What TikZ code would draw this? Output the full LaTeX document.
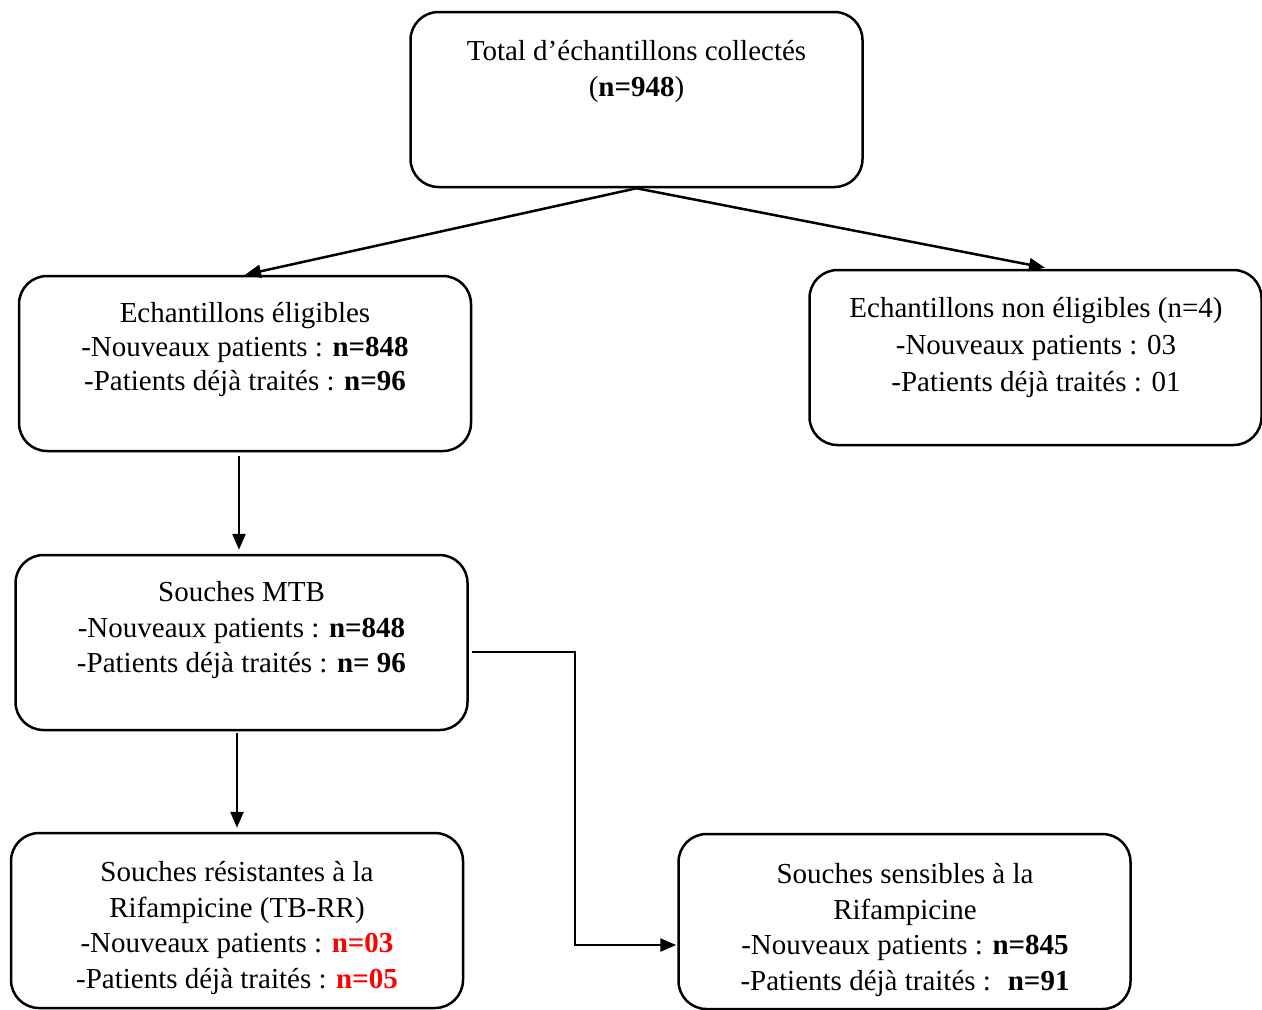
\documentclass[tikz,border=0pt]{standalone}
\usepackage{fontspec}
\setmainfont{Liberation Serif}
\usetikzlibrary{arrows.meta,calc}
\definecolor{vred}{RGB}{255,0,0}
\begin{document}
\begin{tikzpicture}[x=0.5pt,y=-0.5pt,
  box/.style={draw, line width=1.25pt, rounded corners=14pt, minimum width=226pt, minimum height=87.5pt, inner sep=0pt},
  txt/.style={align=center, anchor=north, inner sep=0pt, font=\fontsize{14.5}{17.75}\selectfont},
  arr/.style={line width=1.25pt, -{Triangle[length=8pt,width=6.5pt]}}]
\useasboundingbox (0,0) rectangle (1262,1009);
% boxes
\node[box] (top) at (636.5,99.5) {};
\node[box] (elig) at (245,363.5) {};
\node[box] (nonel) at (1035.5,357.5) {};
\node[box] (mtb) at (241.5,642.5) {};
\node[box] (res) at (237,920.5) {};
\node[box] (sens) at (904.5,921.5) {};
% texts
\node[txt] (ttop) at (636.5,40) {Total d’échantillons collectés\\(\textbf{n=948})};
\node[txt, font=\fontsize{14.5}{17}\selectfont] (telig) at (245,302) {Echantillons éligibles\\-Nouveaux patients : \textbf{n=848}\\-Patients déjà traités : \textbf{n=96}};
\node[txt, font=\fontsize{14.5}{18.5}\selectfont] (tnonel) at (1036,297) {Echantillons non éligibles (n=4)\\-Nouveaux patients : 03\\-Patients déjà traités : 01};
\node[txt] (tmtb) at (241.5,581) {Souches MTB\\-Nouveaux patients : \textbf{n=848}\\-Patients déjà traités : \textbf{n= 96}};
\node[txt] (tres) at (237,861) {Souches résistantes à la\\Rifampicine (TB-RR)\\-Nouveaux patients : \textcolor{vred}{\textbf{n=03}}\\-Patients déjà traités : \textcolor{vred}{\textbf{n=05}}};
\node[txt] (tsens) at (905,863) {Souches sensibles à la\\Rifampicine\\-Nouveaux patients : \textbf{n=845}\\-Patients déjà traités : ~\textbf{n=91}};
% connectors
\draw[arr] (top.south) -- (elig.north);
\draw[arr] (top.south) -- ($(nonel.north)+(9.5,-1)$);
\draw[arr] ($(elig.south)+(-6,4)$) -- ($(mtb.north)+(-2.5,-4)$);
\draw[arr] ($(mtb.south)+(-4.5,2)$) -- ($(res.north)+(0,-4)$);
\draw[arr] ($(mtb.east)+(3,9.5)$) -- ++(103,0) |- ($(sens.west)+(-1,23.5)$);
\end{tikzpicture}
\end{document}
